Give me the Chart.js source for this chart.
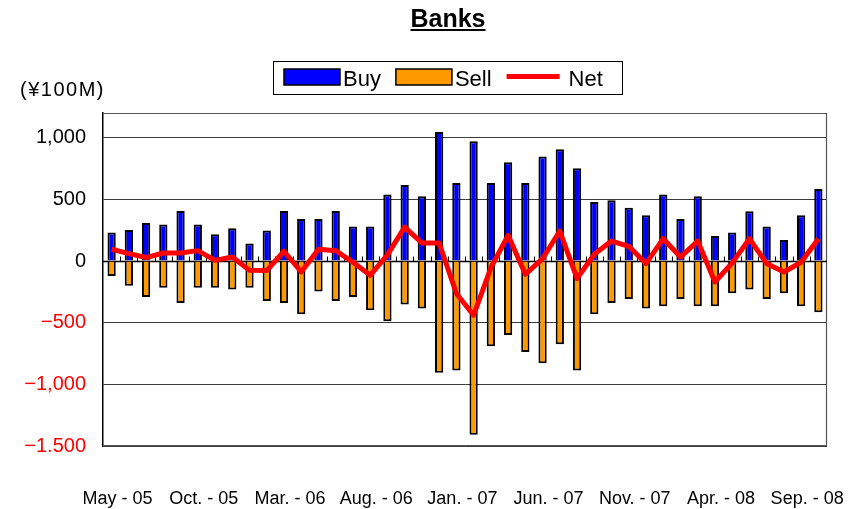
<!DOCTYPE html>
<html>
<head>
<meta charset="utf-8">
<title>Banks</title>
<script src="https://cdn.jsdelivr.net/npm/chart.js@4.4.1/dist/chart.umd.min.js"></script>
<style>
  body { margin: 0; background: #fff; }
  canvas { display: block; }
</style>
</head>
<body>
<canvas id="grafico" width="868" height="509"></canvas>
<script>
// meses de mayo 2005 a octubre 2008
const meses = [
  'May - 05','Jun. - 05','Jul. - 05','Aug. - 05','Sep. - 05','Oct. - 05','Nov. - 05','Dec. - 05',
  'Jan. - 06','Feb. - 06','Mar. - 06','Apr. - 06','May - 06','Jun. - 06','Jul. - 06','Aug. - 06',
  'Sep. - 06','Oct. - 06','Nov. - 06','Dec. - 06',
  'Jan. - 07','Feb. - 07','Mar. - 07','Apr. - 07','May - 07','Jun. - 07','Jul. - 07','Aug. - 07',
  'Sep. - 07','Oct. - 07','Nov. - 07','Dec. - 07',
  'Jan. - 08','Feb. - 08','Mar. - 08','Apr. - 08','May - 08','Jun. - 08','Jul. - 08','Aug. - 08',
  'Sep. - 08','Oct. - 08'
]

// compras, ventas y neto en 100M yen
const compras = [
  232, 251, 308, 295, 405, 295, 216, 265,
  141, 248, 405, 340, 340, 405, 279, 279,
  540, 616, 524, 1045,
  632, 970, 632, 800, 632, 848, 907, 753,
  478, 492, 432, 370,
  540, 340, 524, 203, 232, 403, 279, 170,
  370, 583
]
const ventas = [
  -121, -200, -291, -216, -340, -216, -216, -232,
  -216, -324, -340, -432, -248, -324, -291, -400,
  -488, -353, -386, -907,
  -888, -1409, -691, -599, -737, -829, -675, -888,
  -432, -340, -308, -386,
  -367, -308, -367, -367, -262, -232, -308, -262,
  -367, -416
]
const neto = [
  95, 60, 28, 65, 65, 84, 5, 32,
  -76, -78, 79, -89, 95, 84, -10, -116,
  50, 275, 146, 146,
  -264, -440, -55, 208, -108, 19, 243, -143,
  55, 162, 119, -21,
  181, 32, 162, -170, -15, 181, -21, -89,
  -10, 181
]

// eje y: valores de las marcas y su texto
const ejeYValores = [-1500, -1000, -500, 0, 500, 1000]
const ejeYEtiquetas = ['\u22121.500', '\u22121,000', '\u2212500', '0', '500', '1,000']

const fuente = "'Liberation Sans', Arial, sans-serif"

// titulo, unidad, leyenda con recuadro, borde del area y linea del cero
const extras = {
  id: 'extras',
  beforeDatasetsDraw(chart) {
    const { ctx, chartArea: a, scales: { x, y } } = chart
    ctx.save()
    // borde gris del area (arriba, derecha, abajo)
    ctx.strokeStyle = '#555'
    ctx.lineWidth = 1.2
    ctx.beginPath()
    ctx.moveTo(a.left, a.top + 0.5)
    ctx.lineTo(a.right - 0.5, a.top + 0.5)
    ctx.lineTo(a.right - 0.5, a.bottom - 0.5)
    ctx.lineTo(a.left, a.bottom - 0.5)
    ctx.stroke()

    // linea del cero con marquitas entre meses
    const y0 = Math.round(y.getPixelForValue(0)) + 0.5
    const paso = x.getPixelForValue(1) - x.getPixelForValue(0)
    ctx.strokeStyle = '#000'
    ctx.lineWidth = 1.3
    ctx.beginPath()
    ctx.moveTo(a.left, y0)
    ctx.lineTo(a.right, y0)
    ctx.stroke()
    ctx.lineWidth = 1
    ctx.beginPath()
    for (let i = 1; i < meses.length; i++) {
      const px = Math.round(x.getPixelForValue(i) - paso / 2) + 0.5
      ctx.moveTo(px, y0)
      ctx.lineTo(px, y0 - 5)
    }
    ctx.stroke()
    ctx.restore()
  },
  afterDraw(chart) {
    const { ctx } = chart
    ctx.save()
    ctx.fillStyle = '#000'

    // titulo subrayado
    ctx.font = 'bold 25px ' + fuente
    ctx.textAlign = 'center'
    ctx.textBaseline = 'alphabetic'
    ctx.fillText('Banks', 448, 27)
    const w = ctx.measureText('Banks').width
    ctx.fillRect(448 - w / 2, 29, w, 2)

    // unidad
    ctx.font = '20px ' + fuente
    ctx.textAlign = 'left'
    ctx.letterSpacing = '1.5px'
    ctx.fillText('(\u00a5100M)', 20, 96)
    ctx.letterSpacing = '0px'

    // leyenda
    ctx.strokeStyle = '#000'
    ctx.lineWidth = 1
    ctx.strokeRect(273.5, 61.5, 349, 33)
    ctx.font = '22px ' + fuente
    let lx = 284
    chart.data.datasets.forEach(ds => {
      if (ds.type === 'line') {
        ctx.strokeStyle = ds.borderColor
        ctx.lineWidth = 5
        ctx.beginPath()
        ctx.moveTo(lx, 76.5)
        ctx.lineTo(lx + 53, 76.5)
        ctx.stroke()
        lx += 62
      } else {
        ctx.fillStyle = ds.backgroundColor
        ctx.fillRect(lx, 69, 56, 16)
        ctx.strokeStyle = '#000'
        ctx.lineWidth = 1.5
        ctx.strokeRect(lx, 69, 56, 16)
        lx += 59
      }
      ctx.fillStyle = '#000'
      ctx.fillText(ds.label, lx, 86)
      lx += ctx.measureText(ds.label).width + 15
    })
    ctx.restore()
  }
}

const ctx = document.getElementById('grafico').getContext('2d')
const grafico = new Chart(ctx, {
  data: {
    labels: meses,
    datasets: [
      {
        type: 'bar',
        label: 'Buy',
        data: compras,
        backgroundColor: '#0000ff',
        borderColor: '#000',
        borderWidth: 2,
        grouped: false,
        order: 2
      },
      {
        type: 'bar',
        label: 'Sell',
        data: ventas,
        backgroundColor: '#ff9900',
        borderColor: '#000',
        borderWidth: 2,
        grouped: false,
        order: 1
      },
      {
        type: 'line',
        label: 'Net',
        data: neto,
        borderColor: '#ff0000',
        backgroundColor: '#ff0000',
        borderWidth: 5,
        borderJoinStyle: 'round',
        pointRadius: 0,
        tension: 0,
        order: 0
      }
    ]
  },
  options: {
    responsive: false,
    devicePixelRatio: 1,
    animation: false,
    layout: { padding: { top: 113, right: 41, bottom: 0, left: 0 } },
    datasets: {
      bar: { categoryPercentage: 1, barPercentage: 0.48 }
    },
    plugins: {
      legend: { display: false },
      title: { display: false },
      tooltip: { enabled: false }
    },
    scales: {
      x: {
        type: 'category',
        grid: { display: false },
        border: { display: false },
        ticks: {
          autoSkip: false,
          maxRotation: 0,
          minRotation: 0,
          padding: 34,
          labelOffset: 6,
          color: '#000',
          font: { family: fuente, size: 18 },
          callback: function (val, i) {
            return i % 5 === 0 ? this.getLabelForValue(val) : ''
          }
        },
        afterFit: (scale) => { scale.height = 63 }
      },
      y: {
        min: -1500,
        max: 1200,
        afterBuildTicks: (scale) => {
          scale.ticks = ejeYValores.map(v => ({ value: v }))
        },
        grid: {
          color: (c) => c.tick && c.tick.value === 0 ? 'rgba(0,0,0,0)' : '#3a3a3a',
          lineWidth: 1,
          drawTicks: false
        },
        border: { display: true, color: '#000', width: 1.5 },
        ticks: {
          padding: 17,
          font: { family: fuente, size: 20 },
          color: (c) => c.tick.value < 0 ? '#ff0000' : '#000',
          callback: (v) => ejeYEtiquetas[ejeYValores.indexOf(v)]
        },
        afterFit: (scale) => { scale.width = 103 }
      }
    }
  },
  plugins: [extras]
})
</script>
</body>
</html>
